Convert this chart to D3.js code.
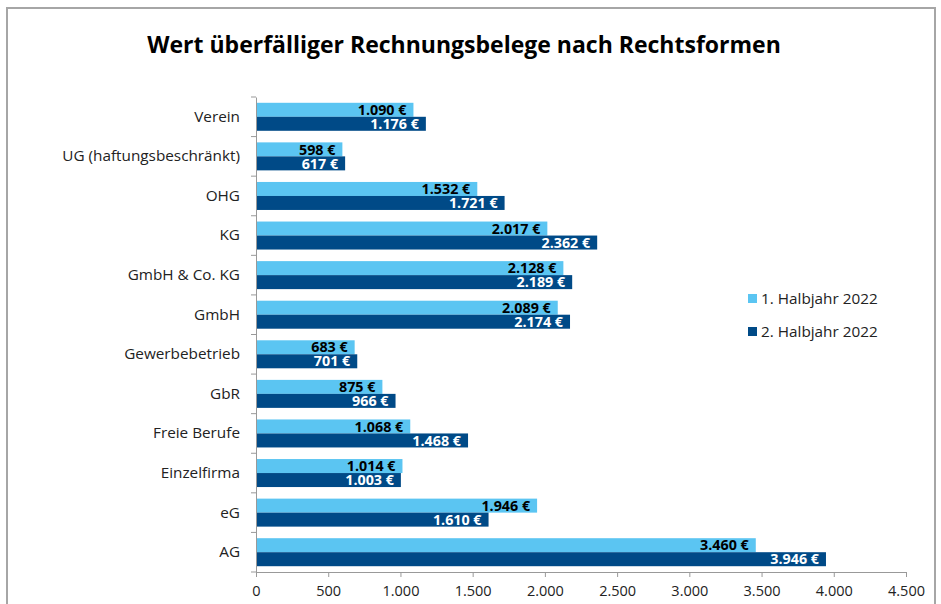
<!DOCTYPE html>
<html><head><meta charset="utf-8">
<script src="https://cdn.jsdelivr.net/npm/d3@7"></script>
<style>
html,body{margin:0;padding:0;background:#fff;}
svg{display:block;font-family:"Open Sans",sans-serif;}
</style></head>
<body><svg id="c" width="941" height="604"></svg>
<script>
const categories = ["Verein","UG (haftungsbeschränkt)","OHG","KG","GmbH & Co. KG","GmbH","Gewerbebetrieb","GbR","Freie Berufe","Einzelfirma","eG","AG"];
const series1 = [1090,598,1532,2017,2128,2089,683,875,1068,1014,1946,3460];
const series2 = [1176,617,1721,2362,2189,2174,701,966,1468,1003,1610,3946];
const seriesNames = ["1. Halbjahr 2022","2. Halbjahr 2022"];
const xTicks = [0,500,1000,1500,2000,2500,3000,3500,4000,4500];
const colors = ["#5BC5F2","#004A87"];
const labelColors = ["#000","#fff"];

const svg = d3.select("#c");
const fmt = v => v.toLocaleString("de-DE");

// frame
svg.append("rect").attr("x",7).attr("y",8).attr("width",928).attr("height",620)
  .attr("fill","none").attr("stroke","#a6a6a6").attr("stroke-width",2);

svg.append("text").attr("x",464).attr("y",53).attr("text-anchor","middle")
  .attr("font-size",23).attr("font-weight","bold").attr("fill","#000")
  .text("Wert überfälliger Rechnungsbelege nach Rechtsformen");

const x = d3.scaleLinear().domain([0,4500]).range([256,906]);
const y = d3.scaleBand().domain(categories).range([97,572]).paddingInner(0).paddingOuter(0);
const inner = d3.scaleBand().domain([0,1]).range([0,28]);
const off = (y.bandwidth()-28)/2;

// bars
const groups = svg.append("g").selectAll("g").data(categories).join("g")
  .attr("transform",d=>`translate(0,${y(d)+off})`);
[series1,series2].forEach((s,si)=>{
  groups.append("rect")
    .attr("x",x(0)).attr("y",inner(si))
    .attr("width",(d,i)=>x(s[i])-x(0)).attr("height",inner.bandwidth())
    .attr("fill",colors[si]);
  groups.append("text")
    .attr("x",(d,i)=>x(s[i])-7).attr("y",inner(si)+inner.bandwidth()/2)
    .attr("dy","0.36em").attr("text-anchor","end")
    .attr("font-size",14.3).attr("font-weight","bold").attr("fill",labelColors[si])
    .text((d,i)=>fmt(s[i])+" €");
});

// x axis
const xa = svg.append("g").attr("transform","translate(0,572)")
  .call(d3.axisBottom(x).tickValues(xTicks).tickSize(5).tickFormat(fmt));
xa.select(".domain").attr("stroke","#999");
xa.selectAll(".tick line").attr("stroke","#999");
xa.selectAll("text").attr("font-size",14.5).attr("fill","#222").attr("font-family","Open Sans").attr("dy","1.1em");

// y axis
const ya = svg.append("g").attr("transform","translate(256,0)")
  .call(d3.axisLeft(y).tickSize(0).tickPadding(16));
ya.select(".domain").attr("stroke","#999");
ya.selectAll("text").attr("font-size",15.3).attr("fill","#222").attr("font-family","Open Sans");
// category boundary ticks
const bounds = categories.map(c=>y(c)).concat([y.range()[1]]);
svg.append("g").selectAll("line").data(bounds).join("line")
  .attr("x1",251).attr("x2",256).attr("y1",d=>d).attr("y2",d=>d).attr("stroke","#999");

// legend
const lg = svg.append("g").selectAll("g").data(seriesNames).join("g")
  .attr("transform",(d,i)=>`translate(748,${299+i*33})`);
lg.append("rect").attr("x",0).attr("y",-5).attr("width",9).attr("height",9).attr("fill",(d,i)=>colors[i]);
lg.append("text").attr("x",13).attr("y",0).attr("dy","0.35em").attr("font-size",15.3).attr("fill","#222").text(d=>d);
</script></body></html>
